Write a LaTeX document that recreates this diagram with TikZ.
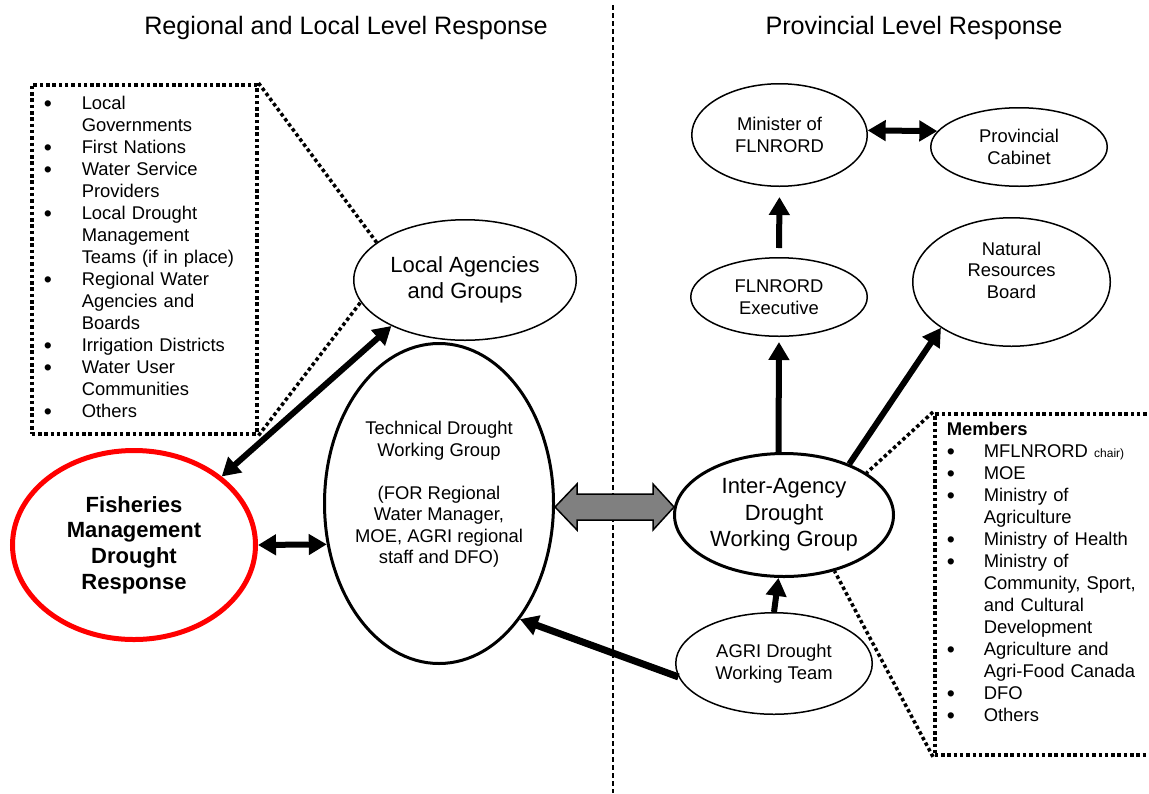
\documentclass[tikz,border=0pt]{standalone}
\usepackage{fontspec}
\setmainfont{Liberation Sans}
\usetikzlibrary{shapes.geometric,arrows.meta}
\newcommand{\blt}{\smash{\raisebox{-0.7pt}{\fontsize{11.5}{11}\selectfont\textbullet}}}
\tikzset{
  bub/.style     = {ellipse, draw, line width=0.75pt, inner sep=0pt, align=center,
                    font=\fontsize{9.2}{10.75}\selectfont},
  bubtext/.style = {align=center, inner sep=0pt, font=\fontsize{9.2}{10.75}\selectfont},
  flow/.style    = {line width=3pt, -{Triangle[length=9pt,width=10pt]}},
  both/.style    = {flow, {Triangle[length=9pt,width=10pt]}-{Triangle[length=9pt,width=10pt]}},
  callout/.style = {line width=1.75pt, dash pattern=on 1.75pt off 1.4pt},
  divider/.style = {line width=0.8pt, dash pattern=on 2.5pt off 1.5pt},
  listbox/.style = {draw, callout, anchor=north west, inner xsep=6pt, align=left,
                    font=\fontsize{9.2}{11}\selectfont},
  bigarrow/.style= {draw=black, line width=0.75pt, fill=gray, line join=miter},
  heading/.style = {font=\fontsize{12.6}{15}\selectfont},
}

\begin{document}
\begin{tikzpicture}[x=0.5pt, y=-0.5pt]
  \useasboundingbox (0,0) rectangle (1149,793);
  \draw[divider] (613,5) -- (613,793);
  \node[heading] (regtitle)  at (346,28) {Regional and Local Level Response};
  \node[heading] (provtitle) at (914,28) {Provincial Level Response};

  % regional and local side
  \node[listbox, text width=100.5pt, minimum height=174.5pt] (lbox) at (30,83) {%
    \begin{tabular}{@{}p{19pt}@{}l@{}}
      \blt & Local\\
           & Governments\\
      \blt & First Nations\\
      \blt & Water Service\\
           & Providers\\
      \blt & Local Drought\\
           & Management\\
           & Teams (if in place)\\
      \blt & Regional Water\\
           & Agencies and\\
           & Boards\\
      \blt & Irrigation Districts\\
      \blt & Water User\\
           & Communities\\
      \blt & Others
    \end{tabular}};
  \node[bub, minimum width=111.25pt, minimum height=60.25pt,
        font=\fontsize{11}{13}\selectfont] (local) at (465,280) {Local Agencies\\and Groups};
  \node[bub, line width=1.5pt, minimum width=114.5pt, minimum height=160pt] (tech) at (439,503.5) {};
  \node[bubtext] (techtext) at ([yshift=4.5pt]tech.center)
    {Technical Drought\\Working Group\\[10.75pt](FOR Regional\\Water Manager,\\MOE, AGRI regional\\staff and DFO)};
  \node[bub, draw=red, line width=2.5pt, minimum width=121.5pt, minimum height=94.5pt,
        font=\bfseries\fontsize{11}{12.85}\selectfont] (fish) at (134,545)
    {Fisheries\\Management\\Drought\\Response};

  % provincial side
  \node[bub, minimum width=87.75pt, minimum height=51.25pt] (minister) at (779.5,135) {Minister of\\FLNRORD};
  \node[bub, minimum width=88.25pt, minimum height=39.25pt] (cabinet) at (1019,147) {Provincial\\Cabinet};
  \node[bub, minimum width=88.25pt, minimum height=39.25pt] (exec) at (779,297) {FLNRORD\\Executive};
  \node[bub, minimum width=98.75pt, minimum height=64.25pt] (nrb) at (1011.5,282) {};
  \node[bubtext] (nrbtext) at ([yshift=6pt]nrb.center) {Natural\\Resources\\Board};
  \node[bub, line width=1.5pt, minimum width=109.5pt, minimum height=61.5pt,
        font=\fontsize{11}{13.25}\selectfont] (inter) at (784,515) {Inter-Agency\\Drought\\Working Group};
  \node[bub, minimum width=98.25pt, minimum height=50.75pt] (agri) at (774,663.5) {AGRI Drought\\Working Team};
  \node[listbox, text width=110pt] (mbox) at (933,412) {%
    \begin{tabular}{@{}p{18.5pt}@{}l@{}}
      \multicolumn{2}{@{}l@{}}{\bfseries Members}\\
      \blt & MFLNRORD {\fontsize{6}{7}\selectfont chair)}\\
      \blt & MOE\\
      \blt & Ministry of\\
           & Agriculture\\
      \blt & Ministry of Health\\
      \blt & Ministry of\\
           & Community, Sport,\\
           & and Cultural\\
           & Development\\
      \blt & Agriculture and\\
           & Agri-Food Canada\\
      \blt & DFO\\
      \blt & Others\\[10pt]
    \end{tabular}};

  % callouts
  \draw[callout] (lbox.north east) -- (local.157);
  \draw[callout] (lbox.south east) -- (local.192);
  \draw[callout] (mbox.north west) -- (inter.27);
  \draw[callout] (mbox.south west) -- (inter.-48);

  % connectors
  \draw[both] (minister.3) -- (cabinet.169);
  \draw[flow, shorten <=4.5pt, shorten >=5pt] (exec.north) -- (minister.south);
  \draw[flow, shorten >=2.5pt] (inter.95) -- (exec.south);
  \draw[flow] (inter.38) -- (nrb.213);
  \draw[flow] (agri.north) -- (inter.265);
  \draw[flow, line width=3.5pt] (agri.188) -- (tech.305);
  \draw[both] (fish.east) -- (tech.200);
  \draw[both] (fish.38) -- (local.212);
  \draw[bigarrow] (tech.east) ++(0,3.5) -- ++(22,-23) -- ++(0,10) -- ++(76,0) -- ++(0,-10)
    -- ++(21,23) -- ++(-21,23) -- ++(0,-10) -- ++(-76,0) -- ++(0,10) -- cycle;
\end{tikzpicture}
\end{document}
